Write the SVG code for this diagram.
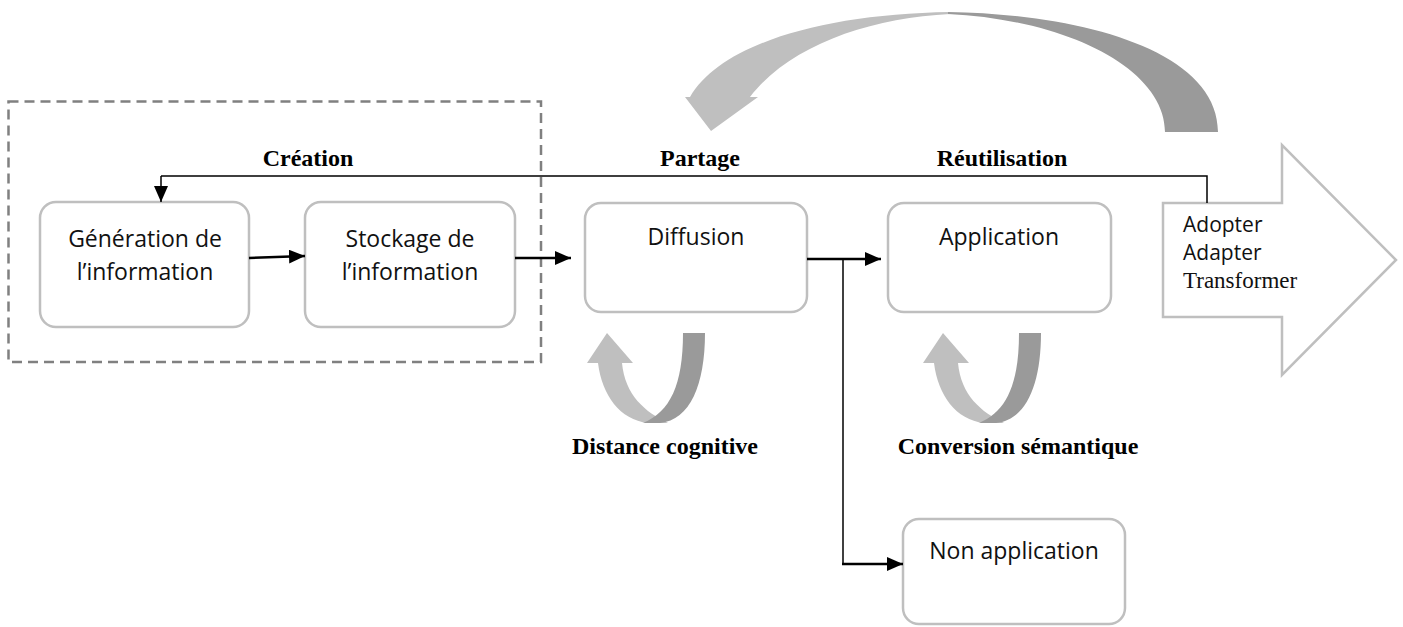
<svg xmlns="http://www.w3.org/2000/svg" width="1403" height="627" viewBox="0 0 1403 627">
<style>
.box{fill:#fff;stroke:#BFBFBF;stroke-width:2.5}
.t{font-family:"Open Sans","Liberation Sans",sans-serif;font-size:23px;fill:#111;text-anchor:middle}
.b{font-family:"Liberation Serif","Times New Roman",serif;font-size:24px;font-weight:bold;fill:#000;text-anchor:middle}
.c{fill:none;stroke:#000;stroke-width:2.5}
.thin{fill:none;stroke:#000;stroke-width:1.5}
.light{fill:#BFBFBF}
.dark{fill:#9A9A9A}
</style>
<defs>
<marker id="ah" markerWidth="16" markerHeight="14" refX="16" refY="7" orient="auto" markerUnits="userSpaceOnUse">
<path d="M0,0 L16,7 L0,14 Z" fill="#000"/>
</marker>
</defs>
<rect width="1403" height="627" fill="#fff"/>

<g id="creation-frame">
<rect x="8.5" y="101.5" width="532.5" height="260.5" fill="none" stroke="#808080" stroke-width="2.5" stroke-dasharray="10,6"/>
</g>

<g id="feedback-arrow">
<path class="light" d="M950,12 C820,14 720,45 690,97 L685,97 L711,131 L758,97 L750,97 C790,45 870,18 950,14 Z"/>
<path class="dark" d="M948,12 C1080,14 1218,50 1218,132 L1165,132 C1165,70 1070,20 948,14 Z"/>
</g>

<g id="labels">
<text class="b" x="308" y="166">Création</text>
<text class="b" x="700" y="166">Partage</text>
<text class="b" x="1002" y="166">Réutilisation</text>
<text class="b" x="665" y="454">Distance cognitive</text>
<text class="b" x="1018" y="454">Conversion sémantique</text>
</g>

<g id="node-generation">
<rect class="box" x="40" y="202" width="209" height="125" rx="16"/>
<text class="t" x="145" y="247">Génération de</text>
<text class="t" x="145" y="280">l’information</text>
</g>

<g id="node-stockage">
<rect class="box" x="305" y="202" width="210" height="125" rx="16"/>
<text class="t" x="410" y="247">Stockage de</text>
<text class="t" x="410" y="280">l’information</text>
</g>

<g id="node-diffusion">
<rect class="box" x="585" y="203" width="222" height="109" rx="16"/>
<text class="t" x="696" y="245">Diffusion</text>
</g>

<g id="node-application">
<rect class="box" x="888" y="203" width="223" height="109" rx="16"/>
<text class="t" x="999" y="245">Application</text>
</g>

<g id="node-non-application">
<rect class="box" x="903" y="519" width="222" height="105" rx="16"/>
<text class="t" x="1014" y="559">Non application</text>
</g>

<g id="node-outcome">
<path d="M1163,203 L1282,203 L1282,145 L1396,260 L1282,375 L1282,317 L1163,317 Z" fill="#fff" stroke="#BFBFBF" stroke-width="2.5"/>
<text x="1183" y="232" font-family="Open Sans, Liberation Sans, sans-serif" font-size="21" fill="#111">Adopter</text>
<text x="1183" y="260" font-family="Open Sans, Liberation Sans, sans-serif" font-size="21" fill="#111">Adapter</text>
<text x="1183" y="288" font-family="Liberation Serif, Times New Roman, serif" font-size="23" fill="#111">Transformer</text>
</g>

<g id="loop-diffusion">
<path class="light" d="M587,363 L607,333 L633,363 L622,363 C625,395 645,412 668,423 L648,423 C620,420 602,395 598,363 Z"/>
<path class="dark" d="M683,333 L705,333 C705,385 690,420 660,423 L643,423 C670,412 683,385 683,333 Z"/>
</g>

<g id="loop-application" transform="translate(336,0)">
<path class="light" d="M587,363 L607,333 L633,363 L622,363 C625,395 645,412 668,423 L648,423 C620,420 602,395 598,363 Z"/>
<path class="dark" d="M683,333 L705,333 C705,385 690,420 660,423 L643,423 C670,412 683,385 683,333 Z"/>
</g>

<g id="connectors">
<path class="c" d="M249,258 L305,256" marker-end="url(#ah)"/>
<path class="c" d="M515,258 L571,258" marker-end="url(#ah)"/>
<path class="c" d="M807,259 L881,259" marker-end="url(#ah)"/>
<path class="thin" d="M843,259 L843,564"/>
<path class="c" d="M842,564 L903,564" marker-end="url(#ah)"/>
<path class="thin" d="M1207,203 L1207,176 L161,176"/>
<path class="thin" d="M161,176 L161,202" marker-end="url(#ah)"/>
</g>
</svg>
